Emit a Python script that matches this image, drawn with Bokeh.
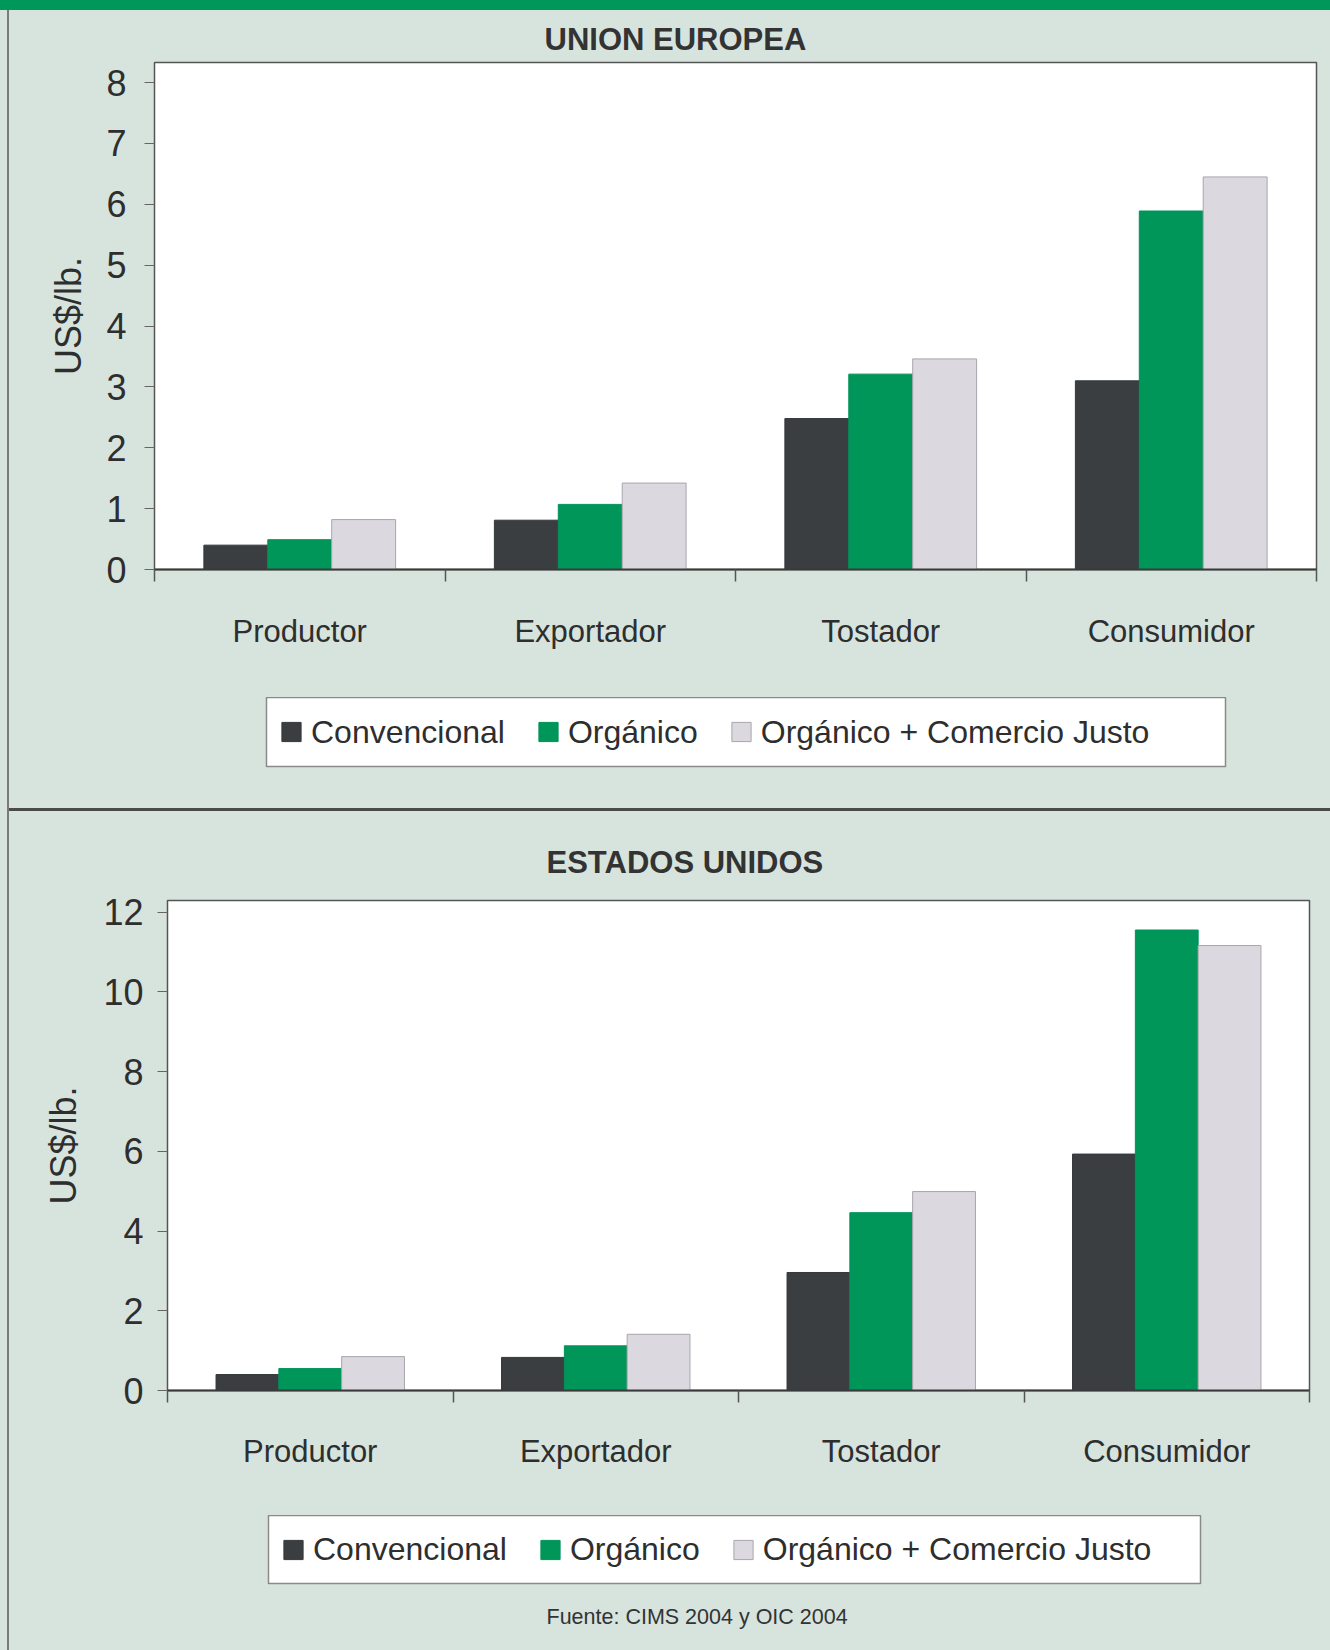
from bokeh.plotting import figure
from bokeh.models import (ColumnDataSource, FactorRange, Range1d, LinearAxis, FixedTicker,
                          Legend, LegendItem, Title, Spacer)
from bokeh.transform import dodge
from bokeh.layouts import column, row
from bokeh.embed import file_html
from bokeh.resources import INLINE

# ---------------- data ----------------
categories = ["Productor", "Exportador", "Tostador", "Consumidor"]
series_names = ["Convencional", "Orgánico", "Orgánico + Comercio Justo"]

ue_title = "UNION EUROPEA"
ue_convencional = [0.40, 0.81, 2.48, 3.10]
ue_organico = [0.49, 1.07, 3.21, 5.89]
ue_organico_cj = [0.82, 1.42, 3.46, 6.45]
ue_yticks = [0, 1, 2, 3, 4, 5, 6, 7, 8]

us_title = "ESTADOS UNIDOS"
us_convencional = [0.40, 0.83, 2.96, 5.93]
us_organico = [0.55, 1.12, 4.46, 11.55]
us_organico_cj = [0.85, 1.41, 4.99, 11.16]
us_yticks = [0, 2, 4, 6, 8, 10, 12]

y_label = "US$/lb."
source_text = "Fuente: CIMS 2004 y OIC 2004"

# ---------------- style ----------------
FONT = "Liberation Sans"
BG = "#d7e4de"
TXT = "#2e2e2e"
FILLS = ["#3a3e41", "#00965a", "#dcd8e0"]
LINES = ["#34383b", "#00925a", "#a8a5ac"]
PAGE_W = 1330
STRIP = 9            # left page strip (background + border line)
W = PAGE_W - STRIP   # figure width


def make_chart(title, vals, y_end, yticks, height, fl, fr, ft, fb,
               title_offset, title_standoff, cat_standoff, ylab_standoff, ytick_standoff):
    p = figure(width=W, height=height,
               x_range=FactorRange(*categories, range_padding=0),
               y_range=Range1d(0, y_end),
               x_axis_location=None,
               output_backend="svg", toolbar_location=None,
               min_border_left=fl, min_border_right=W - fr,
               min_border_top=ft, min_border_bottom=height - fb)
    p.background_fill_color = "white"
    p.border_fill_color = BG
    p.outline_line_color = "#555555"
    p.outline_line_width = 1.5
    p.grid.visible = False

    p.title.text = title
    p.title.align = "left"
    p.title.offset = title_offset
    p.title.standoff = title_standoff
    p.title.text_font = FONT
    p.title.text_font_size = "31px"
    p.title.text_font_style = "bold"
    p.title.text_color = "#333333"

    src = ColumnDataSource(dict(cat=categories, s0=vals[0], s1=vals[1], s2=vals[2]))
    for i, (off, key) in enumerate(zip([-0.22, 0.0, 0.22], ["s0", "s1", "s2"])):
        p.vbar(x=dodge("cat", off, range=p.x_range), top=key, width=0.22,
               source=src, fill_color=FILLS[i], line_color=LINES[i], line_width=1)

    ya = p.yaxis[0]
    ya.ticker = FixedTicker(ticks=yticks)
    ya.axis_label = y_label
    ya.axis_label_text_font = FONT
    ya.axis_label_text_font_size = "36px"
    ya.axis_label_text_font_style = "normal"
    ya.axis_label_text_color = TXT
    ya.axis_label_standoff = ylab_standoff
    ya.major_label_text_font = FONT
    ya.major_label_text_font_size = "36px"
    ya.major_label_text_color = TXT
    ya.major_label_standoff = ytick_standoff
    ya.major_tick_out = 10
    ya.major_tick_in = 0
    ya.major_tick_line_color = "#666666"
    ya.minor_tick_line_color = None
    ya.axis_line_color = None

    n = len(categories)
    xa = LinearAxis(
        ticker=FixedTicker(ticks=[i + 0.5 for i in range(n)],
                           minor_ticks=[float(i) for i in range(n + 1)]),
        major_label_overrides={i + 0.5: c for i, c in enumerate(categories)},
    )
    xa.major_tick_line_color = None
    xa.major_tick_out = 0
    xa.major_tick_in = 0
    xa.minor_tick_out = 12
    xa.minor_tick_in = 0
    xa.minor_tick_line_color = "#555555"
    xa.minor_tick_line_width = 1.5
    xa.axis_line_color = "#3a3a3a"
    xa.axis_line_width = 2
    xa.major_label_standoff = cat_standoff
    xa.major_label_text_font = FONT
    xa.major_label_text_font_size = "31px"
    xa.major_label_text_color = TXT
    p.add_layout(xa, "below")
    return p


def make_legend(height, bl, br, bt, bb):
    """A strip whose white frame is the legend box (box edges in strip pixels)."""
    lf = figure(width=W, height=height, x_range=Range1d(0, 1), y_range=Range1d(0, 1),
                x_axis_location=None, y_axis_location=None,
                output_backend="svg", toolbar_location=None,
                min_border_left=bl, min_border_right=W - br,
                min_border_top=bt, min_border_bottom=height - bb)
    lf.background_fill_color = "white"
    lf.border_fill_color = BG
    lf.outline_line_color = "#8a8a8a"
    lf.outline_line_width = 1.5
    lf.grid.visible = False
    # swatch-only renderers, their single bar lies outside the visible range
    rends = [lf.vbar(x=[-5.0], top=[-5.0], width=0.1, fill_color=FILLS[i],
                     line_color=LINES[i], line_width=1)
             for i in range(3)]
    legend = Legend(items=[LegendItem(label=s, renderers=[rr]) for s, rr in zip(series_names, rends)],
                    orientation="horizontal", location="left", margin=0,
                    padding=13, spacing=31, glyph_width=24, glyph_height=24,
                    label_standoff=8, label_text_font=FONT, label_text_font_size="32px",
                    label_text_color=TXT, background_fill_alpha=0, border_line_alpha=0)
    lf.add_layout(legend)
    return lf


# top section: page y 10..808; chart 10..697, legend strip 697..808
top = make_chart(ue_title, [ue_convencional, ue_organico, ue_organico_cj], 8.33, ue_yticks,
                 687, 154 - STRIP, 1316 - STRIP, 62 - 10, 569 - 10,
                 title_offset=390, title_standoff=11, cat_standoff=32, ylab_standoff=14,
                 ytick_standoff=18)
top_leg = make_legend(111, 266 - STRIP, 1225 - STRIP, 0, 69)

# bottom section: page y 811..1650; chart 811..1515, legend strip 1515..1650
bottom = make_chart(us_title, [us_convencional, us_organico, us_organico_cj], 12.29, us_yticks,
                    704, 167 - STRIP, 1309 - STRIP, 900 - 811, 1390 - 811,
                    title_offset=379, title_standoff=42, cat_standoff=31, ylab_standoff=16,
                    ytick_standoff=14)
bot_leg = make_legend(135, 268 - STRIP, 1200 - STRIP, 0, 68)
bot_leg.add_layout(Title(text=source_text, align="left", offset=278, standoff=39,
                         text_font=FONT, text_font_size="21.5px", text_font_style="normal",
                         text_color="#333333"), "below")

green_band = Spacer(width=PAGE_W, height=10, margin=0, styles={"background-color": "#00985a"})
left_bg = Spacer(width=7, height=1640, margin=0, styles={"background-color": BG})
left_line = Spacer(width=2, height=1640, margin=0, styles={"background-color": "#7a7a7a"})
separator = Spacer(width=W, height=3, margin=0, styles={"background-color": "#4a4a4a"})

charts = column(row(top, spacing=0), row(top_leg, spacing=0), separator,
                row(bottom, spacing=0), row(bot_leg, spacing=0), spacing=0)
layout = column(green_band, row(left_bg, left_line, charts, spacing=0), spacing=0,
                styles={"background-color": BG})
open("out.html", "w").write(file_html(layout, INLINE))
